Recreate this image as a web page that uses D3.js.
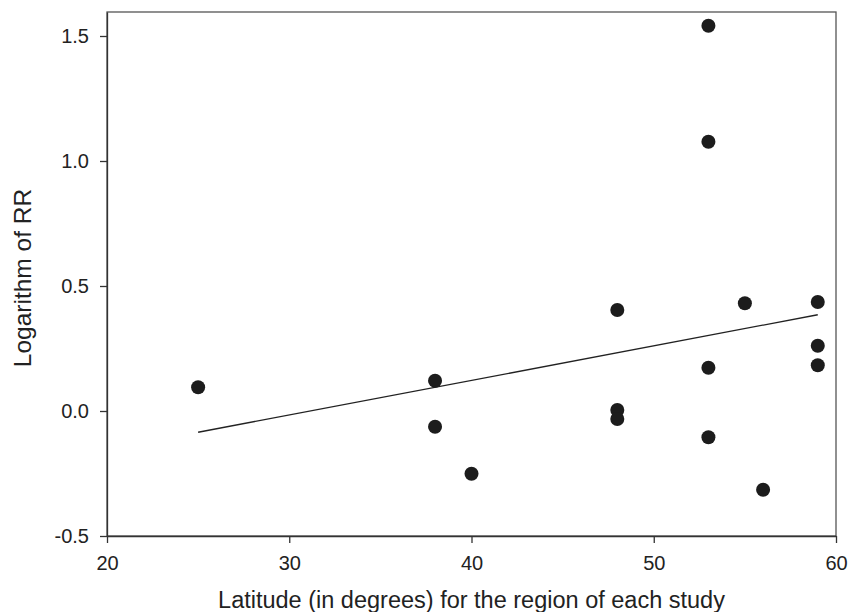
<!DOCTYPE html>
<html>
<head>
<meta charset="utf-8">
<script src="https://cdn.jsdelivr.net/npm/d3@7"></script>
<style>
  body { margin: 0; background: #fff; }
  text { font-family: "Liberation Sans", Arial, sans-serif; fill: #222; }
</style>
</head>
<body>
<div id="vis"></div>
<script>
const WIDTH = 850;
const HEIGHT = 612;
const MARG = {left: 107, right: 14, top: 12, bottom: 76};

// latitude of each study and log RR
const latitude = [25, 38, 38, 40, 48, 48, 48, 53, 53, 53, 53, 55, 56, 59, 59, 59];
const logRR = [0.095, 0.121, -0.063, -0.251, 0.404, 0.004, -0.032, 1.541, 1.077, 0.173, -0.105, 0.431, -0.315, 0.436, 0.261, 0.183];
// fitted regression line endpoints
const fitX = [25, 59];
const fitY = [-0.085, 0.385];
const xTicks = [20, 30, 40, 50, 60];
const yTicks = [-0.5, 0.0, 0.5, 1.0, 1.5];

const VIS_WIDTH = WIDTH - MARG.left - MARG.right;
const VIS_HEIGHT = HEIGHT - MARG.top - MARG.bottom;

const FRAME = d3.select("#vis")
  .append("svg")
    .attr("width", WIDTH)
    .attr("height", HEIGHT);

const X_SCALE = d3.scaleLinear().domain([20, 60]).range([MARG.left, MARG.left + VIS_WIDTH]);
const Y_SCALE = d3.scaleLinear().domain([-0.5, 1.596]).range([MARG.top + VIS_HEIGHT, MARG.top]);

// frame box
FRAME.append("rect")
  .attr("x", MARG.left)
  .attr("y", MARG.top)
  .attr("width", VIS_WIDTH)
  .attr("height", VIS_HEIGHT)
  .attr("fill", "none")
  .attr("stroke", "#555")
  .attr("stroke-width", 1.3);

const xAxis = FRAME.append("g")
  .attr("transform", "translate(0," + (MARG.top + VIS_HEIGHT) + ")")
  .call(d3.axisBottom(X_SCALE).tickValues(xTicks).tickSizeOuter(0).tickSizeInner(7).tickPadding(13));

const yAxis = FRAME.append("g")
  .attr("transform", "translate(" + MARG.left + ",0)")
  .call(d3.axisLeft(Y_SCALE).tickValues(yTicks)
    .tickFormat(d => d3.format(".1f")(d).replace("\u2212", "-"))
    .tickSizeOuter(0).tickSizeInner(7).tickPadding(11));

[xAxis, yAxis].forEach(ax => {
  ax.select(".domain").attr("stroke", "#333").attr("stroke-width", 1.3);
  ax.selectAll(".tick line").attr("stroke", "#333").attr("stroke-width", 1.3);
  ax.selectAll(".tick text").style("font-size", "20px").attr("fill", "#222");
});

// regression line
FRAME.append("line")
  .attr("x1", X_SCALE(fitX[0]))
  .attr("y1", Y_SCALE(fitY[0]))
  .attr("x2", X_SCALE(fitX[1]))
  .attr("y2", Y_SCALE(fitY[1]))
  .attr("stroke", "#222")
  .attr("stroke-width", 1.3);

FRAME.selectAll(".point")
  .data(latitude)
  .enter()
  .append("circle")
    .attr("class", "point")
    .attr("cx", d => X_SCALE(d))
    .attr("cy", (d, i) => Y_SCALE(logRR[i]))
    .attr("r", 7)
    .attr("fill", "#1c1c1c");

FRAME.append("text")
  .attr("x", MARG.left + VIS_WIDTH / 2)
  .attr("y", 608)
  .attr("text-anchor", "middle")
  .style("font-size", "23.5px")
  .text("Latitude (in degrees) for the region of each study");

FRAME.append("text")
  .attr("transform", "translate(31," + (MARG.top + VIS_HEIGHT / 2 + 4) + ") rotate(-90)")
  .attr("text-anchor", "middle")
  .style("font-size", "24.5px")
  .text("Logarithm of RR");
</script>
</body>
</html>
